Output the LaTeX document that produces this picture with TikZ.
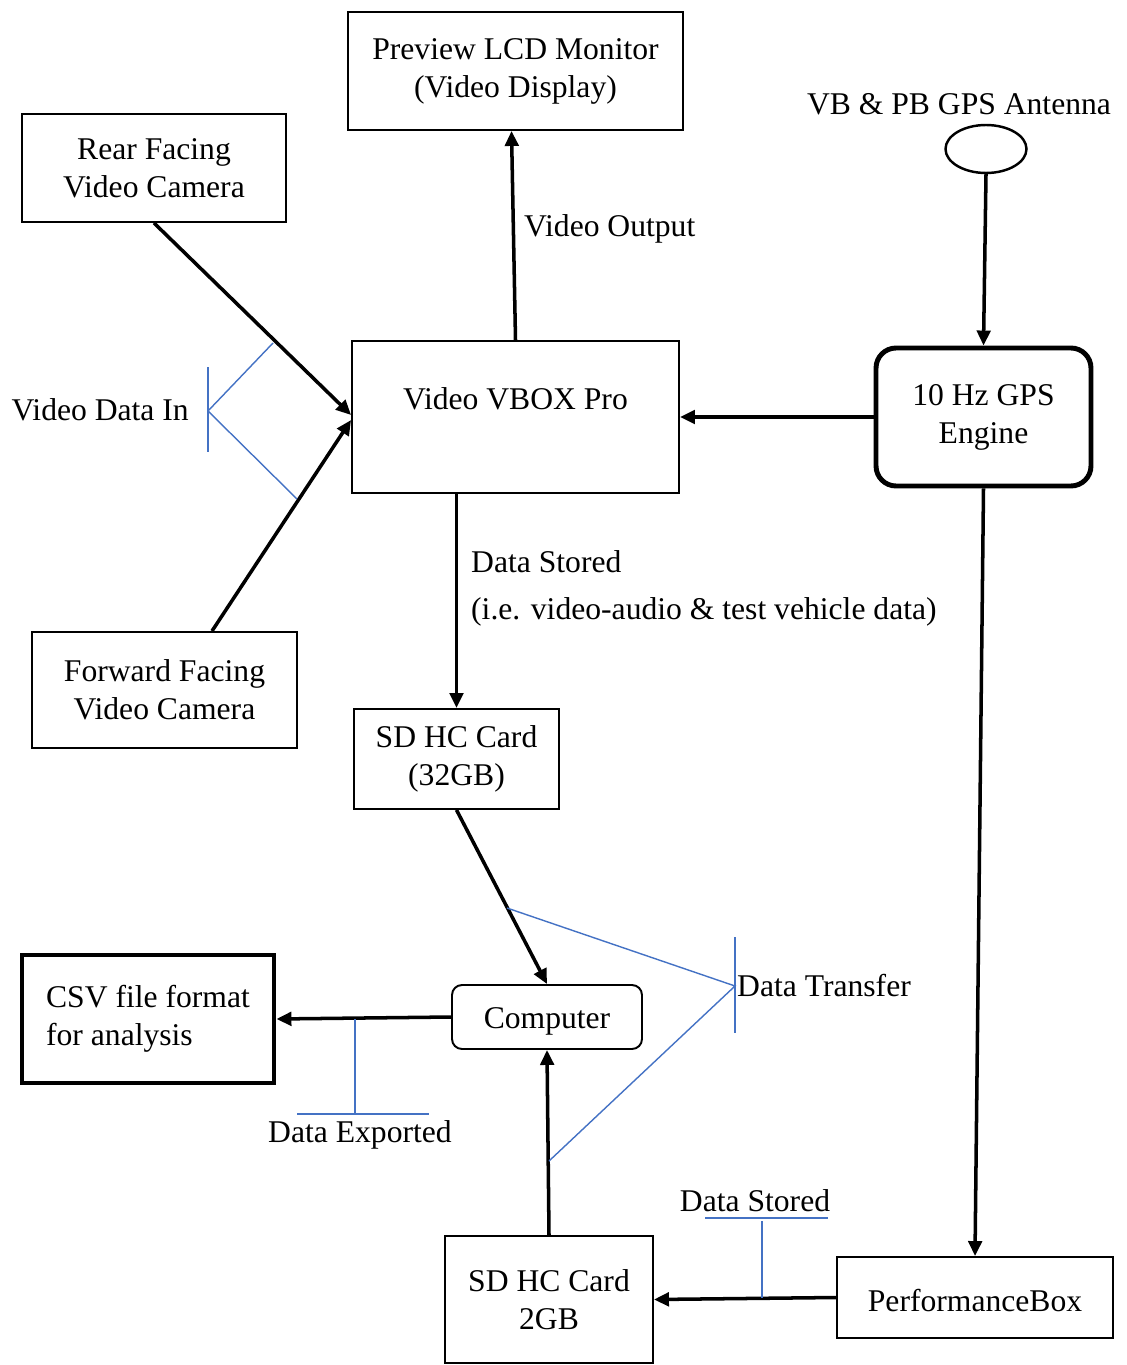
\documentclass[tikz,border=0pt]{standalone}
\usepackage{fontspec}
\setmainfont{Liberation Serif}
\usetikzlibrary{arrows.meta,shapes.geometric}
\definecolor{notecol}{RGB}{68,114,196}
\tikzset{
  box/.style={draw, line width=1.1pt, align=center, inner sep=0pt,
    execute at begin node={\rule{0pt}{16.5pt}}},
  heavybox/.style={box, line width=2.8pt},
  link/.style={-{Triangle[length=0.3cm,width=0.27cm]}, line width=2pt},
  note/.style={draw=notecol, line width=0.8pt},
}
\begin{document}
\begin{tikzpicture}[x=0.02cm, y=-0.02cm, font=\fontsize{18}{21.6}\selectfont]
\useasboundingbox (0,0) rectangle (1126,1365);

\node[box, minimum width=6.7cm, minimum height=2.36cm] (lcd) at (515.5,71)
  {Preview LCD Monitor\\(Video Display)};
\node[box, minimum width=5.28cm, minimum height=2.16cm] (rear) at (154,168)
  {Rear Facing\\Video Camera};
\node[box, minimum width=6.54cm, minimum height=3.04cm] (vbox) at (515.5,417)
  {Video VBOX Pro\\~};
\node[heavybox, rounded corners=0.4cm, minimum width=4.3cm, minimum height=2.76cm] (gps) at (983.5,417)
  {10 Hz GPS\\Engine};
\node[draw, ellipse, line width=1.4pt, minimum width=1.62cm, minimum height=0.96cm] (ant) at (986,149) {};
\node (antlbl) at (959,104) {VB \& PB GPS Antenna};
\node[box, minimum width=5.3cm, minimum height=2.32cm] (fwd) at (164.5,690)
  {Forward Facing\\Video Camera};
\node[box, minimum width=4.1cm, minimum height=2cm] (sd32) at (456.5,759)
  {SD HC Card\\(32GB)};
\node[heavybox, align=left, minimum width=5.04cm, minimum height=2.56cm] (csv) at (148,1019)
  {CSV file format\\for analysis};
\node[box, rounded corners=0.2cm, minimum width=3.8cm, minimum height=1.28cm] (comp) at (547,1017)
  {Computer};
\node[box, minimum width=4.16cm, minimum height=2.54cm] (sd2) at (549,1299.5)
  {SD HC Card\\2GB};
\node[box, minimum width=5.52cm, minimum height=1.62cm] (pbox) at (975,1297.5)
  {PerformanceBox};

\draw[link] (vbox.north) to ([xshift=-0.08cm]lcd.south);
\node[anchor=west] (vout) at (518,229) {Video Output};
\draw[link] (rear.south) to ([yshift=0.04cm]vbox.west);
\draw[link] ([xshift=0.95cm]fwd.north) to ([yshift=-0.06cm]vbox.west);
\draw[link] (gps.west) to (vbox.east);
\draw[link] (ant.south) to (gps.north);
\draw[link] (vbox.south -| sd32.north) to (sd32.north);
\node[anchor=west] (stored) at (465,562) {Data Stored};
\node[anchor=west] (ie) at (465,612) {(i.e. video-audio \& test vehicle data)};
\draw[link] (gps.south) to (pbox.north);
\draw[link] (sd32.south) to (comp.north);
\draw[link] (sd2.north) to (comp.south);
\draw[link] (comp.west) to (csv.east);
\draw[link] (pbox.west) to (sd2.east);

% annotations
\node[anchor=east] (vin) at (195,410) {Video Data In};
\draw[note] (208,367) -- (208,452);
\draw[note] (273,343) -- (208,411) -- (297,499);

\node[anchor=west] (xfer) at (731,986) {Data Transfer};
\draw[note] (735,937) -- (735,1033);
\draw[note] (507,908) -- (735,986) -- (549,1161);

\node (export) at (360,1135) {Data Exported};
\draw[note] (355,1019) -- (355,1114);
\draw[note] (297,1114) -- (429,1114);

\node (pbstored) at (755,1201) {Data Stored};
\draw[note] (705,1218) -- (828,1218);
\draw[note] (762,1221) -- (762,1298);
\end{tikzpicture}
\end{document}
